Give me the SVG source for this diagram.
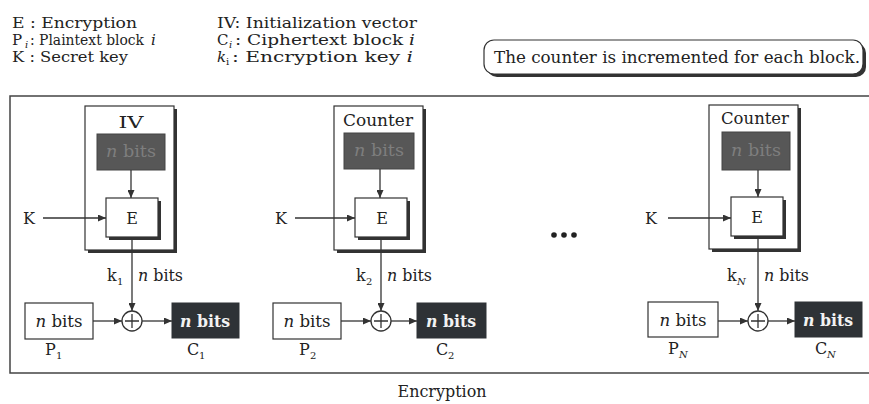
<svg xmlns="http://www.w3.org/2000/svg" width="869" height="404" viewBox="0 0 869 404">
<defs>
<style>
.t{font-family:"DejaVu Serif","Liberation Serif",serif;fill:#222}
.leg{font-size:15px}
.lab{font-size:16px}
.sub{font-size:10px}
.it{font-style:italic}
.ln{stroke:#333;stroke-width:1.3;fill:none}
.box{fill:#fff;stroke:#333;stroke-width:1.2}
.sh{fill:#333}
.dk{fill:#575757;stroke:#444;stroke-width:1}
.dk2{fill:#2e3236;stroke:#2e3236;stroke-width:1}
.dkt{fill:#7e7e7e}
.wt{fill:#f2f2f2;font-weight:bold}
</style>
<marker id="ah" viewBox="0 0 8 7" markerUnits="userSpaceOnUse" markerWidth="8" markerHeight="7" refX="8" refY="3.5" orient="auto">
<path d="M0,0 L8,3.5 L0,7 z" fill="#333"/>
</marker>
</defs>
<rect width="869" height="404" fill="#fff"/>

<g id="legend">
<text class="t leg" x="12" y="28" textLength="125" lengthAdjust="spacingAndGlyphs">E : Encryption</text>
<text class="t leg" x="217" y="28" textLength="200" lengthAdjust="spacingAndGlyphs">IV: Initialization vector</text>
<text class="t leg" x="12" y="45">P</text><text class="t sub it" x="25" y="48">i</text>
<text class="t leg" x="30" y="45" textLength="114" lengthAdjust="spacingAndGlyphs">: Plaintext block</text>
<text class="t leg it" x="151" y="45">i</text>
<text class="t leg" x="217" y="45">C</text><text class="t sub it" x="229" y="48">i</text>
<text class="t leg" x="235" y="45" textLength="180" lengthAdjust="spacingAndGlyphs">: Ciphertext block <tspan class="it">i</tspan></text>
<text class="t leg" x="12" y="62" textLength="116" lengthAdjust="spacingAndGlyphs">K : Secret key</text>
<text class="t leg it" x="217" y="62">k</text><text class="t sub" x="226" y="65">i</text>
<text class="t leg" x="232" y="62" textLength="181" lengthAdjust="spacingAndGlyphs">: Encryption key <tspan class="it">i</tspan></text>
</g>

<g id="note">
<rect class="sh" x="487" y="43" width="379" height="34" rx="10"/>
<rect class="box" x="484" y="40" width="379" height="34" rx="10"/>
<text class="t" style="font-size:16px" x="494" y="63" textLength="366" lengthAdjust="spacingAndGlyphs">The counter is incremented for each block.</text>
</g>

<g id="frame">
<path d="M875,96 H10 V373 H875" fill="none" stroke="#444" stroke-width="1.5"/>
</g>

<!-- Block 1 -->
<g id="b1-unit">
<rect class="sh" x="88" y="109" width="89" height="144"/>
<rect class="box" x="85" y="106" width="89" height="144"/>
<text class="t" style="font-size:17px" x="131" y="128" text-anchor="middle" textLength="25" lengthAdjust="spacingAndGlyphs">IV</text>
</g>
<g id="b1-iv">
<rect class="dk" x="97" y="134" width="68" height="36"/>
<text class="t lab dkt" x="131" y="157" text-anchor="middle" textLength="50" lengthAdjust="spacingAndGlyphs"><tspan class="it">n</tspan> bits</text>
</g>
<g id="b1-E">
<rect class="sh" x="109" y="201" width="52" height="39"/>
<rect class="box" x="106" y="198" width="52" height="39"/>
<text class="t" style="font-size:16px" x="132" y="224" text-anchor="middle">E</text>
</g>
<g id="b1-K"><text class="t lab" x="23" y="224">K</text></g>
<g id="b1-xor">
<circle cx="132" cy="321" r="10" fill="#fff" stroke="#333" stroke-width="1.3"/>
<path class="ln" d="M125,321 H139 M132,314 V328"/>
</g>
<g id="b1-P">
<rect class="box" x="25" y="303" width="68" height="36"/>
<text class="t lab" x="59" y="327" text-anchor="middle" textLength="47" lengthAdjust="spacingAndGlyphs"><tspan class="it">n</tspan> bits</text>
<text class="t lab" x="45" y="355">P</text><text class="t sub" x="56" y="359">1</text>
</g>
<g id="b1-C">
<rect class="dk2" x="172" y="303" width="67" height="35"/>
<text class="t lab wt" x="205" y="327" text-anchor="middle" textLength="50" lengthAdjust="spacingAndGlyphs"><tspan class="it">n</tspan> bits</text>
<text class="t lab" x="187" y="355">C</text><text class="t sub" x="199" y="359">1</text>
</g>
<g id="b1-klabel">
<text class="t lab" x="107" y="281">k</text><text class="t sub" x="117" y="285">1</text>
<text class="t lab" x="138" y="281" textLength="45" lengthAdjust="spacingAndGlyphs"><tspan class="it">n</tspan> bits</text>
</g>

<!-- Block 2 -->
<g id="b2-unit" transform="translate(249,0)">
<rect class="sh" x="88" y="109" width="89" height="144"/>
<rect class="box" x="85" y="106" width="89" height="144"/>
<text class="t" style="font-size:17px" x="129" y="126" text-anchor="middle" textLength="70" lengthAdjust="spacingAndGlyphs">Counter</text>
</g>
<g id="b2-ctr" transform="translate(249,0)">
<rect class="dk" x="95" y="133" width="70" height="36"/>
<text class="t lab dkt" x="130" y="156" text-anchor="middle" textLength="50" lengthAdjust="spacingAndGlyphs"><tspan class="it">n</tspan> bits</text>
</g>
<g id="b2-E" transform="translate(249,0)">
<rect class="sh" x="109" y="201" width="52" height="39"/>
<rect class="box" x="106" y="198" width="52" height="39"/>
<text class="t" style="font-size:16px" x="133" y="224" text-anchor="middle">E</text>
</g>
<g id="b2-K" transform="translate(252,0)"><text class="t lab" x="23" y="224">K</text></g>
<g id="b2-xor" transform="translate(249,0)">
<circle cx="132" cy="321" r="10" fill="#fff" stroke="#333" stroke-width="1.3"/>
<path class="ln" d="M125,321 H139 M132,314 V328"/>
</g>
<g id="b2-P" transform="translate(248,0)">
<rect class="box" x="25" y="303" width="68" height="36"/>
<text class="t lab" x="59" y="327" text-anchor="middle" textLength="47" lengthAdjust="spacingAndGlyphs"><tspan class="it">n</tspan> bits</text>
<text class="t lab" x="51" y="355">P</text><text class="t sub" x="62" y="359">2</text>
</g>
<g id="b2-C" transform="translate(245,0)">
<rect class="dk2" x="172" y="303" width="69" height="35"/>
<text class="t lab wt" x="206" y="327" text-anchor="middle" textLength="50" lengthAdjust="spacingAndGlyphs"><tspan class="it">n</tspan> bits</text>
<text class="t lab" x="191" y="355">C</text><text class="t sub" x="203" y="359">2</text>
</g>
<g id="b2-klabel" transform="translate(249,0)">
<text class="t lab" x="107" y="281">k</text><text class="t sub" x="117" y="285">2</text>
<text class="t lab" x="138" y="281" textLength="45" lengthAdjust="spacingAndGlyphs"><tspan class="it">n</tspan> bits</text>
</g>

<g id="ellipsis">
<circle cx="554" cy="235" r="2.8" fill="#222"/>
<circle cx="564" cy="235" r="2.8" fill="#222"/>
<circle cx="574" cy="235" r="2.8" fill="#222"/>
</g>

<!-- Block N -->
<g id="bN-unit" transform="translate(624,-1)">
<rect class="sh" x="88" y="109" width="89" height="144"/>
<rect class="box" x="85" y="106" width="89" height="144"/>
<text class="t" style="font-size:17px" x="131" y="125" text-anchor="middle" textLength="68" lengthAdjust="spacingAndGlyphs">Counter</text>
</g>
<g id="bN-ctr" transform="translate(624,-1)">
<rect class="dk" x="98" y="133" width="68" height="38"/>
<text class="t lab dkt" x="132" y="157" text-anchor="middle" textLength="50" lengthAdjust="spacingAndGlyphs"><tspan class="it">n</tspan> bits</text>
</g>
<g id="bN-E" transform="translate(625,-1)">
<rect class="sh" x="109" y="201" width="52" height="39"/>
<rect class="box" x="106" y="198" width="52" height="39"/>
<text class="t" style="font-size:16px" x="132" y="224" text-anchor="middle">E</text>
</g>
<g id="bN-K" transform="translate(622,0)"><text class="t lab" x="23" y="224">K</text></g>
<g id="bN-xor" transform="translate(626,0)">
<circle cx="132" cy="321" r="10" fill="#fff" stroke="#333" stroke-width="1.3"/>
<path class="ln" d="M125,321 H139 M132,314 V328"/>
</g>
<g id="bN-P" transform="translate(623,-1)">
<rect class="box" x="25" y="303" width="70" height="35"/>
<text class="t lab" x="60" y="327" text-anchor="middle" textLength="47" lengthAdjust="spacingAndGlyphs"><tspan class="it">n</tspan> bits</text>
<text class="t lab" x="45" y="355">P</text><text class="t sub it" x="56" y="359">N</text>
</g>
<g id="bN-C" transform="translate(623,-1)">
<rect class="dk2" x="172" y="303" width="67" height="35"/>
<text class="t lab wt" x="205" y="327" text-anchor="middle" textLength="50" lengthAdjust="spacingAndGlyphs"><tspan class="it">n</tspan> bits</text>
<text class="t lab" x="192" y="355">C</text><text class="t sub it" x="204" y="359">N</text>
</g>
<g id="bN-klabel" transform="translate(620,0)">
<text class="t lab" x="107" y="281">k</text><text class="t sub it" x="117" y="285">N</text>
<text class="t lab" x="144" y="281" textLength="45" lengthAdjust="spacingAndGlyphs"><tspan class="it">n</tspan> bits</text>
</g>

<g id="caption">
<text class="t" style="font-size:16px" x="442" y="397" text-anchor="middle" textLength="89" lengthAdjust="spacingAndGlyphs">Encryption</text>
</g>

<g id="connectors">
<g>
<path class="ln" d="M131,170 V198" marker-end="url(#ah)"/>
<path class="ln" d="M43,218 H106" marker-end="url(#ah)"/>
<path class="ln" d="M132,237 V311" marker-end="url(#ah)"/>
<path class="ln" d="M93,321 H122" marker-end="url(#ah)"/>
<path class="ln" d="M142,321 H172" marker-end="url(#ah)"/>
</g>
<g transform="translate(249,0)">
<path class="ln" d="M131,169 V198" marker-end="url(#ah)"/>
<path class="ln" d="M46,218 H106" marker-end="url(#ah)"/>
<path class="ln" d="M132,237 V311" marker-end="url(#ah)"/>
<path class="ln" d="M92,321 H122" marker-end="url(#ah)"/>
<path class="ln" d="M142,321 H168" marker-end="url(#ah)"/>
</g>
<g transform="translate(626,0)">
<path class="ln" d="M132,170 V197" marker-end="url(#ah)"/>
<path class="ln" d="M42,218 H105" marker-end="url(#ah)"/>
<path class="ln" d="M132,236 V311" marker-end="url(#ah)"/>
<path class="ln" d="M92,321 H122" marker-end="url(#ah)"/>
<path class="ln" d="M142,321 H169" marker-end="url(#ah)"/>
</g>
</g>
</svg>
